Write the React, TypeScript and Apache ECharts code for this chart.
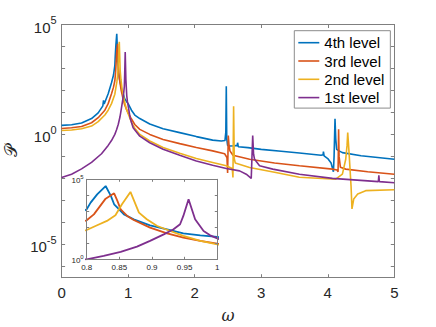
import React, { useEffect, useRef } from 'react';
import * as echarts from 'echarts';

const W = 436;
const H = 327;

// ---- Data (omega, log10 P) ----
const levelNames = ['4th level', '3rd level', '2nd level', '1st level'];
const levelColors = ['#0072BD', '#D95319', '#EDB120', '#7E2F8E'];

const omega4 = [0, 0.15, 0.3, 0.45, 0.55, 0.62, 0.63, 0.64, 0.7, 0.75, 0.78, 0.8, 0.806, 0.816, 0.829, 0.837, 0.842, 0.847, 0.857, 0.872, 0.897, 0.923, 0.948, 0.974, 1.0, 1.05, 1.1, 1.175, 1.325, 1.525, 1.775, 2.025, 2.27, 2.4, 2.455, 2.468, 2.475, 2.482, 2.495, 2.52, 2.6, 2.64, 2.645, 2.655, 2.8, 3.0, 3.3, 3.574, 3.9, 3.93, 3.935, 3.945, 4.0, 4.05, 4.085, 4.095, 4.109, 4.12, 4.134, 4.17, 4.22, 4.5, 5.0];
const logP4 = [0.41, 0.44, 0.52, 0.72, 0.98, 1.3, 1.55, 1.38, 1.85, 2.35, 2.7, 3.125, 3.54, 4.06, 4.58, 3.96, 3.44, 3.23, 2.81, 2.5, 2.125, 1.875, 1.625, 1.5, 1.4, 1.1, 0.88, 0.72, 0.47, 0.26, 0.08, -0.1, -0.26, -0.3, -0.28, 0.1, 2.19, -0.2, -0.5, -0.53, -0.52, -0.5, -0.38, -0.56, -0.6, -0.68, -0.77, -0.85, -0.95, -0.93, -0.78, -0.98, -1.1, -1.3, -1.7, -1.0, 0.71, -0.2, -0.68, -0.75, -0.83, -0.97, -1.13];

const omega3 = [0, 0.15, 0.3, 0.45, 0.55, 0.65, 0.7, 0.75, 0.78, 0.8, 0.811, 0.829, 0.842, 0.847, 0.852, 0.862, 0.872, 0.897, 0.923, 0.948, 0.974, 1.0, 1.05, 1.1, 1.175, 1.325, 1.525, 1.775, 2.025, 2.27, 2.45, 2.485, 2.495, 2.505, 2.515, 2.53, 2.575, 2.825, 3.2, 3.574, 4.07, 4.14, 4.155, 4.163, 4.17, 4.19, 4.27, 4.6, 5.0];
const logP3 = [0.27, 0.3, 0.36, 0.53, 0.76, 1.1, 1.4, 1.85, 2.15, 2.44, 2.81, 3.79, 4.125, 3.65, 3.125, 2.71, 2.46, 1.98, 1.625, 1.35, 1.15, 0.98, 0.7, 0.45, 0.23, 0, -0.23, -0.42, -0.6, -0.75, -0.88, -1.05, -1.76, -0.05, -0.45, -0.75, -0.95, -1.13, -1.3, -1.43, -1.58, -1.62, -1.7, 0.23, -1.0, -1.5, -1.58, -1.7, -1.81];

const omega2 = [0, 0.15, 0.3, 0.45, 0.55, 0.65, 0.7, 0.75, 0.8, 0.816, 0.831, 0.844, 0.854, 0.867, 0.88, 0.892, 0.908, 0.928, 0.948, 0.974, 1.0, 1.05, 1.1, 1.175, 1.325, 1.525, 1.775, 2.025, 2.27, 2.475, 2.565, 2.575, 2.585, 2.595, 2.61, 2.825, 3.2, 3.574, 4.12, 4.22, 4.27, 4.29, 4.3, 4.32, 4.35, 4.364, 4.39, 4.45, 4.57, 5.0];
const logP2 = [0.18, 0.2, 0.26, 0.38, 0.58, 0.88, 1.1, 1.4, 1.83, 2.125, 2.4, 2.75, 3.44, 4.21, 2.92, 2.5, 2.08, 1.77, 1.46, 1.15, 0.94, 0.55, 0.28, 0, -0.3, -0.6, -0.86, -1.1, -1.28, -1.43, -1.55, -1.96, 1.28, -1.1, -1.3, -1.51, -1.72, -1.95, -2.04, -1.81, -1.13, -0.5, 0.08, -0.83, -2.34, -3.39, -2.94, -2.71, -2.56, -2.52];

const omega1 = [0, 0.15, 0.3, 0.45, 0.6, 0.7, 0.75, 0.8, 0.826, 0.852, 0.877, 0.897, 0.918, 0.933, 0.943, 0.948, 0.956, 0.966, 0.979, 0.989, 1.0, 1.03, 1.075, 1.175, 1.325, 1.525, 1.775, 2.025, 2.27, 2.475, 2.675, 2.775, 2.85, 2.872, 2.885, 2.9, 2.975, 3.174, 3.574, 4.07, 4.76, 4.768, 4.776, 5.0];
const logP1 = [-1.96, -1.81, -1.57, -1.27, -0.88, -0.5, -0.28, 0, 0.21, 0.46, 0.79, 1.15, 1.56, 1.875, 2.19, 2.71, 3.75, 2.5, 1.77, 1.5, 1.31, 0.75, 0.3, -0.08, -0.38, -0.68, -0.95, -1.21, -1.4, -1.55, -1.66, -1.81, -2.0, -0.05, -0.9, -1.13, -1.43, -1.58, -1.81, -2.0, -2.15, -1.86, -2.15, -2.2];

const levelOmega = [omega4, omega3, omega2, omega1];
const levelLogP = [logP4, logP3, logP2, logP1];

// axis ranges (log10 exponents for y)
const mainX = { min: 0, max: 5, step: 1 };
const mainY = { min: -6.52, max: 5 };
const insetX = { min: 0.8, max: 1, step: 0.05 };
const insetY = { min: 0, max: 5, step: 1 };

const FONT = "'Liberation Sans', Arial, Helvetica, sans-serif";
const TEXT = '#262626';
const BOX = '#7f7f7f';

function powLabel(v: number, every: number) {
  const r = Math.round(v);
  if (Math.abs(v - r) > 1e-6 || r % every !== 0) return '';
  return '{b|10}{s|' + r + '}';
}

function buildOption() {
  const zip = (xs: number[], ys: number[]) => xs.map((x, i) => [x, ys[i]]);

  const axisLine = { show: true, onZero: false, lineStyle: { color: BOX, width: 1 } };
  const tickMain = { show: true, inside: true, length: 3.5, lineStyle: { color: BOX, width: 1 } };
  const tickInset = { show: true, inside: true, length: 2.5, lineStyle: { color: BOX, width: 1 } };

  const mainSeries = levelNames.map((name, k) => ({
    type: 'line',
    name,
    xAxisIndex: 0,
    yAxisIndex: 0,
    data: zip(levelOmega[k], levelLogP[k]),
    symbol: 'none',
    showSymbol: false,
    clip: true,
    z: 2,
    lineStyle: { color: levelColors[k], width: 1.6 },
    itemStyle: { color: levelColors[k] },
  }));
  const insetSeries = levelNames.map((name, k) => ({
    type: 'line',
    name,
    xAxisIndex: 2,
    yAxisIndex: 2,
    data: zip(levelOmega[k], levelLogP[k]),
    symbol: 'none',
    showSymbol: false,
    clip: true,
    z: 11,
    lineStyle: { color: levelColors[k], width: 1.8 },
    itemStyle: { color: levelColors[k] },
  }));

  return {
    animation: false,
    backgroundColor: '#fff',
    textStyle: { fontFamily: FONT },
    grid: [
      { left: 61.6, right: W - 394.3, top: 24.5, bottom: H - 277.7, containLabel: false, outerBoundsMode: 'none' },
      {
        left: 86.7, top: 179.3, width: 130.6, height: 80, containLabel: false, outerBoundsMode: 'none',
        show: true, backgroundColor: '#fff', borderWidth: 0, z: 10,
      },
    ],
    legend: {
      orient: 'vertical',
      left: 294.3,
      top: 30.7,
      padding: [4.5, 6, 3, 4],
      itemGap: 3.3,
      itemWidth: 21,
      itemHeight: 1.6,
      icon: 'rect',
      backgroundColor: '#fff',
      borderColor: '#8c8c8c',
      borderWidth: 1,
      borderRadius: 0,
      data: levelNames,
      textStyle: { fontSize: 15, color: '#000', fontFamily: FONT },
    },
    xAxis: [
      {
        type: 'value', gridIndex: 0, min: mainX.min, max: mainX.max, interval: mainX.step,
        axisLine, axisTick: tickMain, splitLine: { show: false },
        axisLabel: { fontSize: 15, color: TEXT, margin: 7, fontFamily: FONT },
        name: 'ω', nameLocation: 'middle', nameGap: 30,
        nameTextStyle: { fontSize: 16, fontStyle: 'italic', color: TEXT, fontFamily: "'DejaVu Serif', serif" },
      },
      {
        type: 'value', gridIndex: 0, position: 'top', min: mainX.min, max: mainX.max, interval: mainX.step,
        axisLine, axisTick: tickMain, splitLine: { show: false }, axisLabel: { show: false },
      },
      {
        type: 'value', gridIndex: 1, min: insetX.min, max: insetX.max, interval: insetX.step, z: 12,
        axisLine, axisTick: tickInset, splitLine: { show: false },
        axisLabel: { fontSize: 8, color: TEXT, margin: 4, fontFamily: FONT },
      },
      {
        type: 'value', gridIndex: 1, position: 'top', min: insetX.min, max: insetX.max, interval: insetX.step, z: 12,
        axisLine, axisTick: tickInset, splitLine: { show: false }, axisLabel: { show: false },
      },
    ],
    yAxis: [
      {
        type: 'value', gridIndex: 0, min: mainY.min, max: mainY.max, minInterval: 1, maxInterval: 1, splitNumber: 11,
        axisLine, axisTick: tickMain, splitLine: { show: false },
        axisLabel: {
          margin: 5,
          formatter: (v: number) => powLabel(v, 5),
          rich: {
            b: { fontSize: 15, color: TEXT, fontFamily: FONT, lineHeight: 20, verticalAlign: 'bottom' },
            s: { fontSize: 11, color: TEXT, fontFamily: FONT, lineHeight: 12, verticalAlign: 'top' },
          },
        },
        name: '𝒫', nameLocation: 'middle', nameGap: 41, nameRotate: 90,
        nameTextStyle: { fontSize: 17, color: TEXT, fontFamily: "'DejaVu Serif', 'DejaVu Sans', serif" },
      },
      {
        type: 'value', gridIndex: 0, position: 'right', min: mainY.min, max: mainY.max, minInterval: 1, maxInterval: 1, splitNumber: 11,
        axisLine, axisTick: tickMain, splitLine: { show: false }, axisLabel: { show: false },
      },
      {
        type: 'value', gridIndex: 1, min: insetY.min, max: insetY.max, interval: insetY.step, z: 12,
        axisLine, axisTick: tickInset, splitLine: { show: false },
        axisLabel: {
          margin: 3,
          formatter: (v: number) => powLabel(v, 5),
          rich: {
            b: { fontSize: 8, color: TEXT, fontFamily: FONT, lineHeight: 11, verticalAlign: 'bottom' },
            s: { fontSize: 6, color: TEXT, fontFamily: FONT, lineHeight: 7, verticalAlign: 'top' },
          },
        },
      },
      {
        type: 'value', gridIndex: 1, position: 'right', min: insetY.min, max: insetY.max, interval: insetY.step, z: 12,
        axisLine, axisTick: tickInset, splitLine: { show: false }, axisLabel: { show: false },
      },
    ],
    series: [...mainSeries, ...insetSeries],
  };
}

export default function App() {
  const ref = useRef<HTMLDivElement>(null);
  useEffect(() => {
    if (!ref.current) return;
    const chart = echarts.init(ref.current, null, { renderer: 'svg', width: W, height: H });
    chart.setOption(buildOption() as any);
    return () => chart.dispose();
  }, []);
  return (
    <div
      ref={ref}
      style={{ position: 'fixed', left: 0, top: 0, width: W, height: H, background: '#fff' }}
    />
  );
}
